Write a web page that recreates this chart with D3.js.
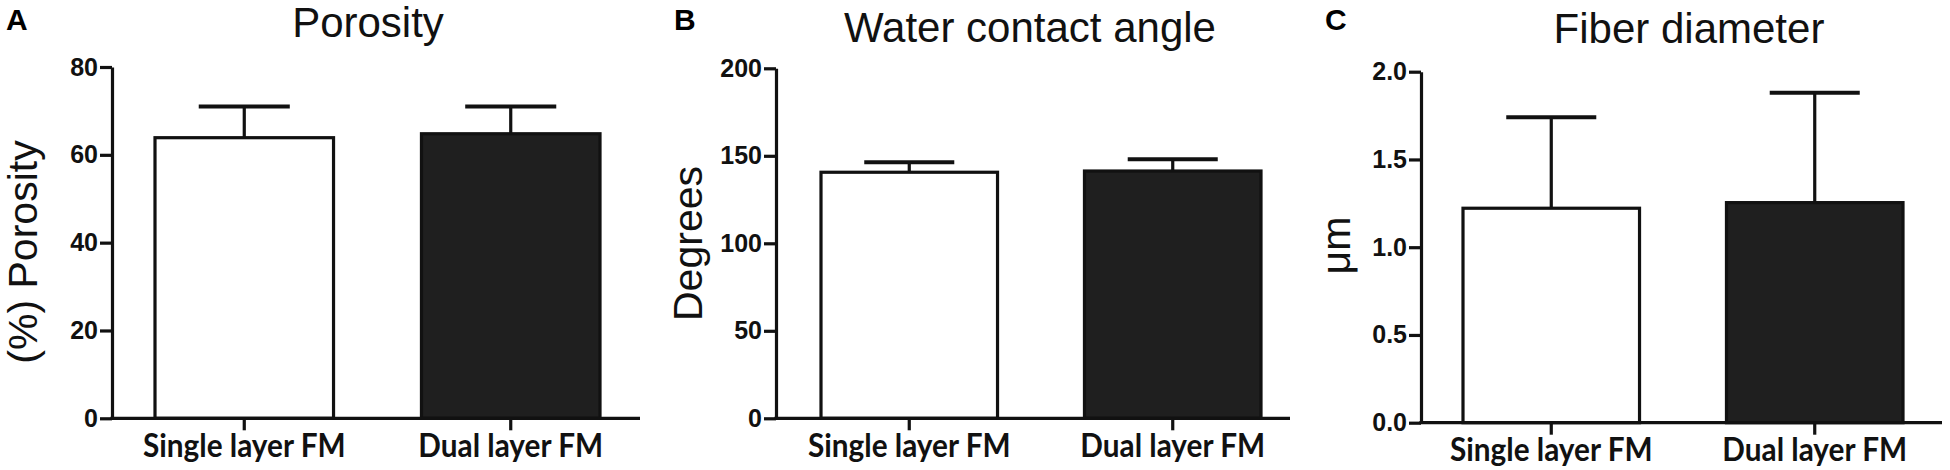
<!DOCTYPE html>
<html><head><meta charset="utf-8">
<script src="https://cdn.jsdelivr.net/npm/d3@7"></script>
<style>
body{margin:0;background:#fff;}
svg{display:block;}
</style></head><body>
<svg id="chart" width="1950" height="470"></svg>
<script>
// ---- data ----
const categories = ["Single layer FM", "Dual layer FM"];
const porosityMean = [63.9, 64.8];
const porositySD = [7.1, 6.2];
const contactMean = [140.6, 141.3];
const contactSD = [5.7, 6.7];
const fiberMean = [1.222, 1.254];
const fiberSD = [0.518, 0.626];
const porosityTicks = [0, 20, 40, 60, 80];
const contactTicks = [0, 50, 100, 150, 200];
const fiberTicks = [0, 0.5, 1.0, 1.5, 2.0];
const panelLetters = ["A", "B", "C"];
const titles = ["Porosity", "Water contact angle", "Fiber diameter"];
const yLabels = ["(%) Porosity", "Degrees", "\u03bcm"];

// ---- layout (positions / styles) ----
const layout = [
  {axisX:112, axisEnd:640, yTop:67, yBottom:418.3, bars:[155,600], titleX:368, titleY:37, letterX:6, labelDx:75, labelCy:252, fmt:d3.format("d")},
  {axisX:776, axisEnd:1290, yTop:68.3, yBottom:418.3, bars:[821,1261], titleX:1030, titleY:42, letterX:674, labelDx:74, labelCy:243.5, fmt:d3.format("d")},
  {axisX:1421, axisEnd:1942, yTop:71.7, yBottom:422.7, bars:[1463,1903], titleX:1689, titleY:43, letterX:1325, labelDx:71, labelCy:245.5, fmt:d3.format(".1f")}
];
const panels = [
  {mean:porosityMean, sd:porositySD, ticks:porosityTicks},
  {mean:contactMean, sd:contactSD, ticks:contactTicks},
  {mean:fiberMean, sd:fiberSD, ticks:fiberTicks}
];
const ink = "#111";
const fills = ["#ffffff", "#1f1f1f"];
const svg = d3.select("#chart");

panels.forEach((P, pi) => {
  const L = layout[pi];
  const g = svg.append("g");
  const y = d3.scaleLinear().domain([0, d3.max(P.ticks)]).range([L.yBottom, L.yTop]);
  const x = d3.scaleBand().domain(categories).range(L.bars).paddingInner(0.33).paddingOuter(0);
  const bw = x.bandwidth();

  // error bars (upper only)
  const eb = g.append("g").attr("stroke", ink).attr("fill", "none");
  eb.selectAll("line.v").data(categories).join("line").attr("class","v")
    .attr("x1", d => x(d) + bw/2).attr("x2", d => x(d) + bw/2)
    .attr("y1", (d,i) => y(P.mean[i])).attr("y2", (d,i) => y(P.mean[i] + P.sd[i]))
    .attr("stroke-width", 3.2);
  eb.selectAll("line.c").data(categories).join("line").attr("class","c")
    .attr("x1", d => x(d) + bw/2 - bw*0.255).attr("x2", d => x(d) + bw/2 + bw*0.255)
    .attr("y1", (d,i) => y(P.mean[i] + P.sd[i])).attr("y2", (d,i) => y(P.mean[i] + P.sd[i]))
    .attr("stroke-width", 4);

  // bars
  g.selectAll("rect.bar").data(categories).join("rect").attr("class","bar")
    .attr("x", d => x(d)).attr("width", bw)
    .attr("y", (d,i) => y(P.mean[i])).attr("height", (d,i) => y(0) - y(P.mean[i]))
    .attr("fill", (d,i) => fills[i]).attr("stroke", ink).attr("stroke-width", 3.2);

  // y axis
  const ya = g.append("g").attr("transform", `translate(${L.axisX},0)`)
    .call(d3.axisLeft(y).tickValues(P.ticks).tickFormat(L.fmt).tickSize(12).tickSizeOuter(0).tickPadding(2));
  ya.selectAll("path.domain,line").attr("stroke", ink).attr("stroke-width", 3.2);
  ya.selectAll("text").attr("fill", ink)
    .style("font-family", "'Liberation Sans', Arial, sans-serif")
    .style("font-weight", "bold").style("font-size", "25px");

  // x axis
  const xa = g.append("g").attr("transform", `translate(0,${y(0)})`)
    .call(d3.axisBottom(x).tickSize(12).tickSizeOuter(0).tickPadding(4));
  xa.select("path.domain").remove();
  xa.append("line").attr("x1", L.axisX - 1.6).attr("x2", L.axisEnd).attr("y1", 0).attr("y2", 0)
    .attr("stroke", ink).attr("stroke-width", 3.2);
  xa.selectAll("line").attr("stroke", ink).attr("stroke-width", 3.2);
  xa.selectAll(".tick text").attr("fill", ink)
    .style("font-family", "Lato, 'Open Sans', sans-serif")
    .style("font-weight", "bold").style("font-size", "32px")
    .each(function() {
      const len = this.getComputedTextLength();
      d3.select(this).attr("textLength", len * 0.93).attr("lengthAdjust", "spacingAndGlyphs");
    });

  // title
  svg.append("text").attr("x", L.titleX).attr("y", L.titleY).attr("text-anchor", "middle")
    .attr("fill", ink).style("font-family", "'Liberation Sans', Arial, sans-serif")
    .style("font-size", "42px").text(titles[pi]);

  // y label
  svg.append("text").attr("transform", `translate(${L.axisX - L.labelDx},${L.labelCy}) rotate(-90)`)
    .attr("text-anchor", "middle").attr("fill", ink)
    .style("font-family", "'Liberation Sans', Arial, sans-serif")
    .style("font-size", "41px").text(yLabels[pi]);

  // panel letter
  svg.append("text").attr("x", L.letterX).attr("y", 30).attr("fill", "#000")
    .style("font-family", "'Liberation Sans', Arial, sans-serif")
    .style("font-weight", "bold").style("font-size", "30px").text(panelLetters[pi]);
});
</script>
</body></html>
